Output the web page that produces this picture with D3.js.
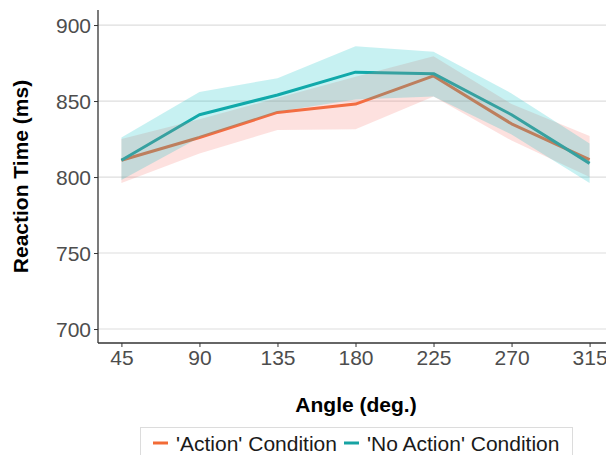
<!DOCTYPE html>
<html>
<head>
<meta charset="utf-8">
<script src="https://cdn.jsdelivr.net/npm/d3@7"></script>
<style>
  body { margin: 0; background: #fff; }
  text { font-family: "Liberation Sans", Arial, sans-serif; }
</style>
</head>
<body>
<div id="graphic"></div>
<script>
(function(d3){

    // Data
    let angles = [45, 90, 135, 180, 225, 270, 315];
    let actionMean  = [811, 826, 842.5, 848, 866.5, 835, 811.5];
    let actionLow   = [796, 815.5, 831, 831.5, 853, 824, 800];
    let actionHigh  = [825, 838, 852, 866, 879.5, 848, 827];
    let noActMean   = [811, 841, 854, 869, 868, 841, 809];
    let noActLow    = [798, 826, 843, 851, 853, 828, 796];
    let noActHigh   = [826, 856, 865, 886, 882.5, 855, 822];
    let yTicks = [700, 750, 800, 850, 900];
    let legendLabels = ["'Action' Condition", "'No Action' Condition"];

    let width = 606, height = 455;
    let left = 98, top = 10, bottom = 343, right = 613;
    let fontSize = '21px';

    let svg = d3.select('#graphic')
                .append('svg')
                .attr('width', width)
                .attr('height', height);

    let x = d3.scaleLinear().domain([31.5, 328.5]).range([left, right]);
    let y = d3.scaleLinear().domain([690.8, 909.9]).range([bottom, top]);

    // Horizontal gridlines
    svg.append('g')
       .selectAll('line')
       .data(yTicks)
       .join('line')
       .attr('x1', left).attr('x2', width)
       .attr('y1', d => y(d)).attr('y2', d => y(d))
       .attr('stroke', '#dedede')
       .attr('stroke-width', 1.2);

    let series = [
        { mean: actionMean, low: actionLow, high: actionHigh, line: '#f26b36', fill: '#F8766D' },
        { mean: noActMean,  low: noActLow,  high: noActHigh,  line: '#16a3a3', fill: '#00BFC4' }
    ];

    let line = d3.line()
        .x((d, i) => x(angles[i]))
        .y(d => y(d));

    let area = d3.area()
        .x((d, i) => x(angles[i]))
        .y0(d => y(d[0]))
        .y1(d => y(d[1]));

    // Lines first, ribbons drawn over them
    series.forEach(s => {
        svg.append('path')
           .attr('d', line(s.mean))
           .attr('fill', 'none')
           .attr('stroke', s.line)
           .attr('stroke-width', 3)
           .attr('stroke-linejoin', 'round');
    });

    series.forEach(s => {
        svg.append('path')
           .attr('d', area(s.low.map((v, i) => [v, s.high[i]])))
           .attr('fill', s.fill)
           .attr('fill-opacity', 0.22);
    });

    // Axes
    let yAxis = svg.append('g')
        .attr('transform', `translate(${left},0)`)
        .call(d3.axisLeft(y).tickValues(yTicks).tickSize(4).tickPadding(3));
    yAxis.select('.domain').attr('d', `M0,${top}V${bottom}`);

    let xAxis = svg.append('g')
        .attr('transform', `translate(0,${bottom})`)
        .call(d3.axisBottom(x).tickValues(angles).tickSize(4).tickPadding(3));
    xAxis.select('.domain').attr('d', `M${left},0H${width}`);

    [yAxis, xAxis].forEach(g => {
        g.select('.domain').attr('stroke', '#333').attr('stroke-width', 1.3);
        g.selectAll('.tick line').attr('stroke', '#333');
        g.selectAll('.tick text')
         .attr('fill', '#4d4d4d')
         .style('font-size', fontSize)
         .style('font-family', '"Liberation Sans", Arial, sans-serif');
    });
    yAxis.selectAll('.tick text').attr('dy', '0.36em');

    // Axis titles
    svg.append('text')
       .attr('x', (left + width) / 2 + 4)
       .attr('y', 412)
       .attr('text-anchor', 'middle')
       .style('font-size', fontSize)
       .style('font-weight', 'bold')
       .text('Angle (deg.)');

    svg.append('text')
       .attr('transform', `translate(28,${(top + bottom) / 2}) rotate(-90)`)
       .attr('text-anchor', 'middle')
       .style('font-size', fontSize)
       .style('font-weight', 'bold')
       .text('Reaction Time (ms)');

    // Legend
    let legend = svg.append('g');
    legend.append('rect')
       .attr('x', 140.5).attr('y', 427.5)
       .attr('width', 432).attr('height', 40)
       .attr('fill', '#fff')
       .attr('stroke', '#dcdcdc');

    let legendX = [153, 344];
    legendLabels.forEach((label, i) => {
        legend.append('line')
           .attr('x1', legendX[i]).attr('x2', legendX[i] + 15)
           .attr('y1', 443).attr('y2', 443)
           .attr('stroke', series[i].line)
           .attr('stroke-width', 3);
        legend.append('text')
           .attr('x', legendX[i] + 23)
           .attr('y', 450.5)
           .attr('fill', '#1a1a1a')
           .style('font-size', fontSize)
           .text(label);
    });

})(window.d3);
</script>
</body>
</html>
